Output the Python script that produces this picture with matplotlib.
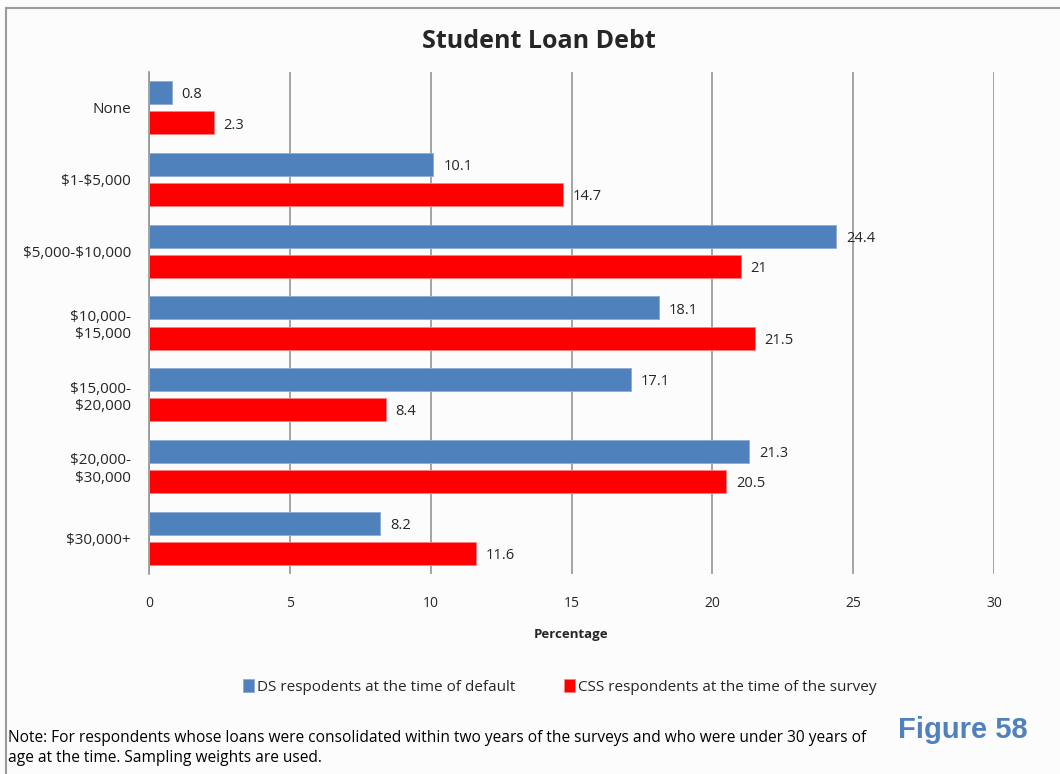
import matplotlib
matplotlib.use("Agg")
import matplotlib.pyplot as plt
from matplotlib.lines import Line2D
import numpy as np

categories = ["None", "$1-$5,000", "$5,000-$10,000", "$10,000-\n$15,000",
              "$15,000-\n$20,000", "$20,000-\n$30,000", "$30,000+"]
ds_values = [0.8, 10.1, 24.4, 18.1, 17.1, 21.3, 8.2]
css_values = [2.3, 14.7, 21.0, 21.5, 8.4, 20.5, 11.6]
ds_labels = ["0.8", "10.1", "24.4", "18.1", "17.1", "21.3", "8.2"]
css_labels = ["2.3", "14.7", "21", "21.5", "8.4", "20.5", "11.6"]
xticks = [0, 5, 10, 15, 20, 25, 30]

BLUE = "#4F81BD"
RED = "#FF0000"
TXT = "#262626"
plt.rcParams["font.family"] = ["Open Sans", "DejaVu Sans"]
plt.rcParams["text.parse_math"] = False  # dollar signs are literal

fig = plt.figure(figsize=(10.6, 7.74), dpi=100, facecolor="#FCFCFC")
ax = fig.add_axes([149 / 1060, 1 - 574 / 774, (994 - 149) / 1060, (574 - 72) / 774])
ax.set_facecolor("#FCFCFC")

y = np.arange(len(categories))
h = 0.32
off = 0.21
ax.barh(y - off, ds_values, height=h, color=BLUE, edgecolor="#8EAAD6", linewidth=0.6,
        label="DS respodents at the time of default", zorder=3)
ax.barh(y + off, css_values, height=h, color=RED, edgecolor="#FF8080", linewidth=0.6,
        label="CSS respondents at the time of the survey", zorder=3)

for yi, v, s in zip(y, ds_values, ds_labels):
    ax.text(v + 0.35, yi - off + 0.03, s, va="center", ha="left", fontsize=10.5, color=TXT, zorder=4)
for yi, v, s in zip(y, css_values, css_labels):
    ax.text(v + 0.35, yi + off + 0.03, s, va="center", ha="left", fontsize=10.5, color=TXT, zorder=4)

ax.set_xlim(0, 30)
ax.set_ylim(len(categories) - 0.5, -0.5)
ax.set_xticks(xticks)
ax.set_xticklabels([str(t) for t in xticks], fontsize=10, color=TXT)
ax.set_yticks(y)
ax.set_yticklabels(categories, fontsize=11, color=TXT)
ax.tick_params(axis="both", length=0)
ax.tick_params(axis="x", pad=16)
ax.tick_params(axis="y", pad=13)
ax.grid(axis="x", color="#959595", linewidth=1.2, zorder=0)
for sp in ["top", "right", "bottom"]:
    ax.spines[sp].set_visible(False)
ax.spines["left"].set_color("#959595")
ax.spines["left"].set_linewidth(1.2)

ax.set_xlabel("Percentage", fontsize=9.5, fontweight="bold", color=TXT, labelpad=12)

fig.text(539 / 1060, 1 - 41 / 774, "Student Loan Debt", fontsize=18, fontweight="bold",
         ha="center", va="center", color=TXT)

leg = fig.legend(loc="center", bbox_to_anchor=(560 / 1060, 1 - 687 / 774), ncol=2,
                 frameon=False, fontsize=11, handlelength=0.7, handleheight=0.9,
                 handletextpad=0.2, columnspacing=3.2)
for t in leg.get_texts():
    t.set_color(TXT)

fig.text(8 / 1060, 1 - 738 / 774,
         "Note: For respondents whose loans were consolidated within two years of the surveys and who were under 30 years of",
         fontsize=11.2, ha="left", va="center", color="black")
fig.text(8 / 1060, 1 - 758 / 774, "age at the time. Sampling weights are used.",
         fontsize=11.2, ha="left", va="center", color="black")
fig.text(1028 / 1060, 1 - 730 / 774, "Figure 58", fontsize=21, fontweight="bold",
         family="Liberation Sans", ha="right", va="center", color=BLUE)

# outer chart border (top and left edges visible)
fig.add_artist(Line2D([6 / 1060, 1], [1 - 8 / 774, 1 - 8 / 774], color="#9A9A9A", linewidth=1.5))
fig.add_artist(Line2D([6 / 1060, 6 / 1060], [0, 1 - 8 / 774], color="#9A9A9A", linewidth=1.5))

fig.savefig("out.png", dpi=100, facecolor=fig.get_facecolor())
